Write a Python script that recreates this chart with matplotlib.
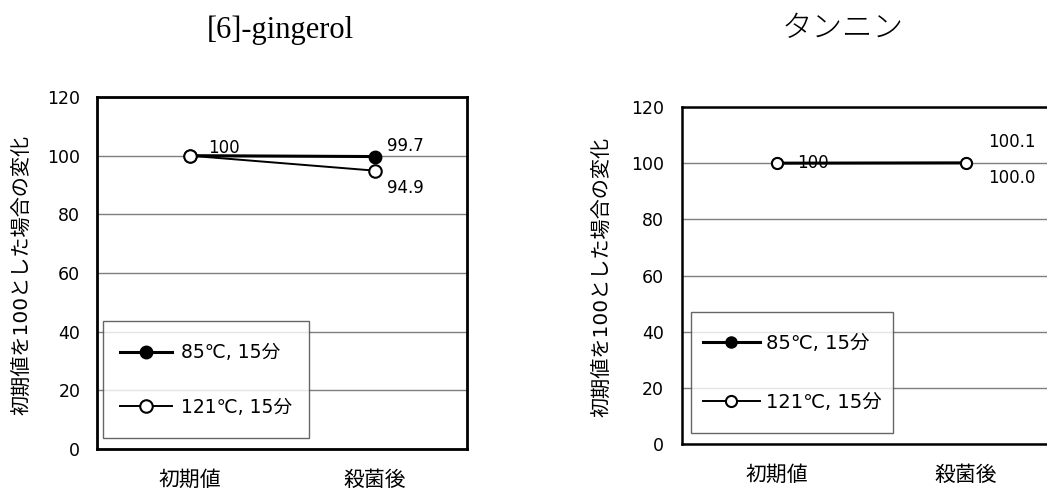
import matplotlib
matplotlib.use("Agg")
import matplotlib.pyplot as plt
from matplotlib.lines import Line2D
from matplotlib.legend_handler import HandlerLine2D
import numpy as np

plt.rcParams['font.family'] = ['DejaVu Sans', 'Noto Sans CJK JP']

categories = ['初期値', '殺菌後']
series_names = ['85℃, 15分', '121℃, 15分']

ginger_85 = [100, 99.7]
ginger_121 = [100, 94.9]
tannin_85 = [100, 100.1]
tannin_121 = [100, 100.0]

ginger_title = '[6]-gingerol'
tannin_title = 'タンニン'
ylabel = '初期値を100とした場合の変化'
yticks = [0, 20, 40, 60, 80, 100, 120]

W, H = 1047, 490
fig = plt.figure(figsize=(W / 100, H / 100), dpi=100)


class TextCenteredLine(HandlerLine2D):
    """Line handle kept at the text's mid-height even in a tall handle box."""

    def create_artists(self, legend, orig_handle, xdescent, ydescent, width, height,
                       fontsize, trans):
        artists = super().create_artists(legend, orig_handle, xdescent, ydescent,
                                         width, height, fontsize, trans)
        shift = 0.35 * fontsize - (height - ydescent) / 2
        for a in artists:
            if isinstance(a, Line2D):
                a.set_ydata(np.asarray(a.get_ydata(), dtype=float) + shift)
        return artists


def px_axes(left, top, right, bottom):
    return fig.add_axes([left / W, 1 - bottom / H, (right - left) / W, (bottom - top) / H])


def style_axes(ax, spine_lw, xpad, ypad):
    x = np.arange(len(categories))
    ax.set_xlim(-0.5, len(categories) - 0.5)
    ax.set_ylim(0, 120)
    ax.set_yticks(yticks)
    ax.set_xticks(x)
    ax.set_xticklabels(categories, fontsize=15)
    ax.tick_params(axis='both', length=0)
    ax.tick_params(axis='x', pad=xpad)
    ax.tick_params(axis='y', pad=ypad, labelsize=12.5)
    ax.yaxis.grid(True, color='#7f7f7f', linewidth=1.0)
    ax.set_axisbelow(True)
    for s in ax.spines.values():
        s.set_linewidth(spine_lw)
        s.set_color('black')
    return x


def draw_series(ax, x, v85, v121, ms):
    l1, = ax.plot(x, v85, color='black', linewidth=2.2, marker='o', markersize=ms,
                  markerfacecolor='black', markeredgecolor='black', label=series_names[0],
                  zorder=3)
    l2, = ax.plot(x, v121, color='black', linewidth=1.4, marker='o', markersize=ms,
                  markerfacecolor='white', markeredgecolor='black', markeredgewidth=1.5,
                  label=series_names[1], zorder=4)
    return [l1, l2]


def label(ax, xv, yv, text, dx, dy):
    ax.annotate(text, (xv, yv), xytext=(dx * 0.72, -dy * 0.72), textcoords='offset points',
                ha='left', va='center', fontsize=12, zorder=5)


def add_legend(ax, lines, anchor, fontsize, borderpad, handleheight, labelspacing,
               handlelength, handletextpad):
    leg = ax.legend(handles=lines, loc='lower left', bbox_to_anchor=anchor, borderaxespad=0,
                    fontsize=fontsize, frameon=True, fancybox=False, borderpad=borderpad,
                    handleheight=handleheight, labelspacing=labelspacing,
                    handlelength=handlelength, handletextpad=handletextpad,
                    handler_map={Line2D: TextCenteredLine()})
    leg.get_frame().set_edgecolor('#404040')
    leg.get_frame().set_linewidth(1.0)
    return leg


# [6]-gingerol
ax1 = px_axes(97, 97, 467, 449)
x = style_axes(ax1, 2.0, 15, 12)
lines = draw_series(ax1, x, ginger_85, ginger_121, 9)
label(ax1, x[0], ginger_85[0], '100', 19, -8)
label(ax1, x[1], ginger_85[1], f'{ginger_85[1]:.1f}', 13, -11)
label(ax1, x[1], ginger_121[1], f'{ginger_121[1]:.1f}', 13, 17)
add_legend(ax1, lines, (0.016, 0.031), 13.5, 0.9, 2.02, 1.33, 2.8, 0.45)
fig.text(22 / W, 1 - 275 / H, ylabel, rotation=90, ha='center', va='center', fontsize=14.5)
fig.text(280 / W, 1 - 30 / H, ginger_title, ha='center', va='center', fontsize=22,
         family='Liberation Serif')

# タンニン
ax2 = px_axes(682, 107, 1060, 444)
x = style_axes(ax2, 1.8, 15, 13)
lines = draw_series(ax2, x, tannin_85, tannin_121, 8)
label(ax2, x[0], tannin_85[0], '100', 21, 0)
label(ax2, x[1], tannin_85[1], f'{tannin_85[1]:.1f}', 23, -21)
label(ax2, x[1], tannin_121[1], f'{tannin_121[1]:.1f}', 23, 15)
add_legend(ax2, lines, (0.024, 0.033), 14, 0.6, 2.7, 1.0, 2.93, 0.31)
fig.text(602 / W, 1 - 277 / H, ylabel, rotation=90, ha='center', va='center', fontsize=14.5)
fig.text(843 / W, 1 - 28 / H, tannin_title, ha='center', va='center', fontsize=22,
         family='Noto Sans CJK JP', fontweight='light')

fig.savefig('out.png', dpi=100, facecolor='white')
